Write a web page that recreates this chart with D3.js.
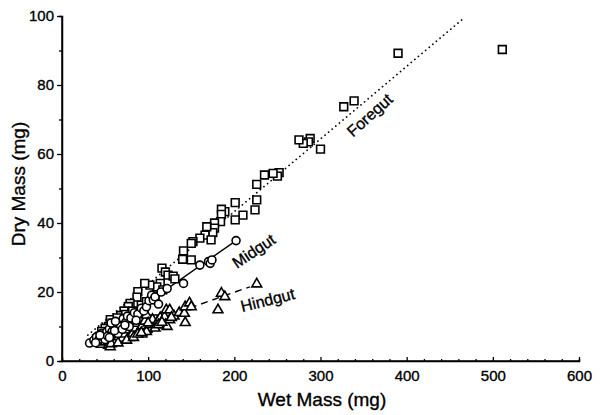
<!DOCTYPE html>
<html>
<head>
<meta charset="utf-8">
<script src="https://cdn.jsdelivr.net/npm/d3@7"></script>
<style>
  body { margin: 0; background: #fff; }
  text { font-family: "Liberation Sans", Arial, Helvetica, sans-serif; fill: #000; stroke: #000; stroke-width: 0.35px; }
</style>
</head>
<body>
<svg id="chart" width="601" height="415"></svg>
<script>
// wet mass (mg), dry mass (mg)
var foregut = [[511,90.3],[390,89.2],[339,75.4],[327,73.7],[300,61.4],[288,64.5],[286,63.5],[280,63.1],[275,64.1],
  [252,54.6],[250,53.6],[245,54.4],[235,53.9],[226,51.2],[226,46.7],[224,43.8],[210,42.3],[201,45.9],[201,40.9],
  [189,43.3],[185,44],[185,42.5],[184,40.4],[177,40],[177,38.5],[175,37.2],[168,38.9],[166,36.5],[173,35.1],
  [160,35.6],[152,34.6],[150,34.1],[141,31.9],[150,29.3],[140,29.5],[116,26.9],[120,25.8],[123,24.9],[129,24.6],
  [131,23.8],[114,22.5],[110,21.5],[117,20.6],[102,22],[96,22.5],[88,20.1],[87,18.5],[79,16.7],[77,15.8],
  [92,16.2],[98,17.2],[108,18.8],[72,14.5],[68,13.2],[66,11.5],[60,10.5],[57,9.5],[52,8.8],[48,8],[44,7.2],
  [40,6.5],[85,13.2],[94,8.1],[100,9.5],[106,12.2],[80,11],[75,10],[62,8],[56,12],[70,12],
  [64,12.5],[58,11],[74,13.5],[82,14.5],[54,10],[50,9.5],[67,9.5],[90,12],[46,8.6]];
var midgut = [[32,5.2],[37,6],[40,7],[43,6.3],[46,8],[48,7],[52,8.5],[55,9.3],[58,8.5],[60,10.2],[63,9.5],
  [66,11],[68,10],[71,12.3],[74,11.2],[76,13],[80,12.5],[84,14],[88,13.6],[92,15.3],[95,14.5],[98,15.7],
  [101,17.5],[104,19.1],[106,17.7],[108,18.6],[112,16.5],[115,20],[122,21],[141,22.5],[160,27.8],[170,28.8],
  [172,28.3],[174,29.3],[202,34.9],[50,6.2],[57,11],[65,8],[78,10],
  [39,5.3],[44,7.5],[53,7.2],[61,8.8],[70,9.2],[73,10.4],[86,11.8],[62,11.5],[55,6.8]];
var hindgut = [[42,5.5],[46,4.8],[50,5.5],[54,4.5],[56,4.1],[58,6.5],[62,5.8],[63,6.1],[66,7],[68,8.5],[70,6.5],
  [73,7.8],[76,9],[78,6.8],[82,8],[85,9.5],[87,10.9],[90,9],[93,10.2],[96,11.5],[98,8.5],[98,13.3],[102,10.5],
  [105,12],[110,11],[114,12.5],[119,12.8],[120,10.5],[122,10],[121,14.8],[125,11.9],[125,14.8],[130,13],
  [136,14],[142,13.8],[143,11.1],[143,15.7],[148,16.8],[150,15.7],[181,14.8],[185,19.6],[189,18.6],[226,22.3],
  [60,9],[72,10.5],[80,11.8],
  [48,6.5],[52,7.5],[57,5],[65,5.2],[75,6],[83,6.8],[88,7.8],[92,8.2],[100,11],[108,9.5],[112,10.5],[116,11.2],[127,12.6]];

// fitted lines (end points)
var foreLine = [[30,7.5],[465,99.1]];
var midLine = [[32,5.2],[202,34.9]];
var hindLine = [[30,5],[218,21.5]];

var xTicks = [0,100,200,300,400,500,600];
var yTicks = [0,20,40,60,80,100];

var svg = d3.select("#chart");
var x = d3.scaleLinear().domain([0,600]).range([62,579]);
var y = d3.scaleLinear().domain([0,100]).range([361,16]);

// axes
var yAxis = svg.append("g").attr("transform","translate(62,0)")
  .call(d3.axisLeft(y).tickValues(yTicks).tickSize(5).tickPadding(3).tickFormat(d3.format("d")));
svg.append("g").attr("transform","translate(62,0)")
  .call(d3.axisLeft(y).tickValues(d3.range(10,100,20)).tickSize(3).tickFormat(""));
var xAxis = svg.append("g").attr("transform","translate(0,361)")
  .call(d3.axisBottom(x).tickValues(xTicks).tickSize(-4).tickPadding(9).tickFormat(d3.format("d")));
svg.append("g").attr("transform","translate(0,361)")
  .call(d3.axisBottom(x).tickValues(d3.range(20,600,20).filter(function(v){return v%100;})).tickSize(-2).tickFormat(""));
svg.selectAll(".domain").attr("stroke","#000").attr("stroke-width",1.5);
svg.selectAll(".tick line").attr("stroke","#000").attr("stroke-width",1.3);
svg.selectAll(".tick text").style("font-size","15px").attr("fill","#000");
yAxis.selectAll(".domain").attr("d","M0,361V16");
xAxis.selectAll(".domain").attr("d","M62,0H579");

svg.append("text").attr("x",322).attr("y",406).attr("text-anchor","middle")
  .style("font-size","19px").text("Wet Mass (mg)");
svg.append("text").attr("transform","translate(25,184) rotate(-90)").attr("text-anchor","middle")
  .style("font-size","19px").text("Dry Mass (mg)");

// regression lines
var line = d3.line().x(function(d){return x(d[0]);}).y(function(d){return y(d[1]);});
svg.append("path").datum(foreLine).attr("d",line).attr("fill","none").attr("stroke","#000")
  .attr("stroke-width",1.7).attr("stroke-linecap","round").attr("stroke-dasharray","0.1,4.6");
svg.append("path").datum(midLine).attr("d",line).attr("fill","none").attr("stroke","#000").attr("stroke-width",1.4);
svg.append("path").datum(hindLine).attr("d",line).attr("fill","none").attr("stroke","#000")
  .attr("stroke-width",1.4).attr("stroke-dasharray","7,5");

// points
function drawPts(data, type, size) {
  svg.append("g").selectAll("path").data(data).enter().append("path")
    .attr("transform", function(d){ return "translate(" + x(d[0]) + "," + y(d[1]) + ")"; })
    .attr("d", d3.symbol().type(type).size(size))
    .attr("fill","#fff").attr("stroke","#000").attr("stroke-width",1.6);
}
drawPts(foregut, d3.symbolSquare, 60);
drawPts(hindgut, d3.symbolTriangle, 42);
drawPts(midgut, d3.symbolCircle, 50);

// line labels
svg.append("text").attr("transform","translate(" + x(357) + "," + y(71.3) + ") rotate(-42)")
  .attr("text-anchor","middle").attr("dy","0.35em").style("font-size","16px").text("Foregut");
svg.append("text").attr("transform","translate(" + x(222.5) + "," + y(31.9) + ") rotate(-34)")
  .attr("text-anchor","middle").attr("dy","0.35em").style("font-size","16px").text("Midgut");
svg.append("text").attr("transform","translate(" + x(238.7) + "," + y(17.7) + ") rotate(-14)")
  .attr("text-anchor","middle").attr("dy","0.35em").style("font-size","16px").text("Hindgut");
</script>
</body>
</html>
